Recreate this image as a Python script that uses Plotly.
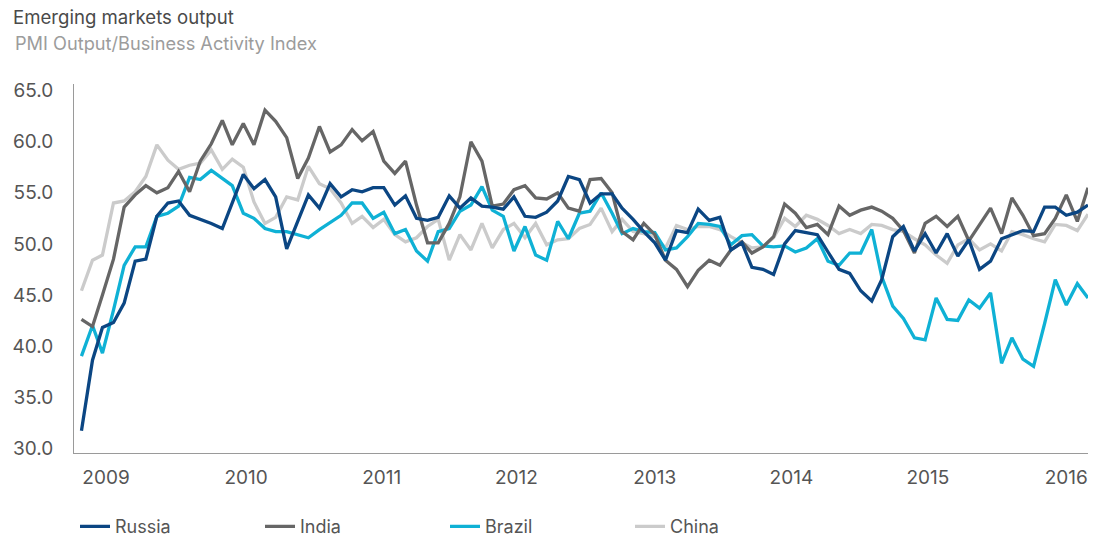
import pandas as pd
import plotly.graph_objects as go

# Monthly observations, Jan 2009 .. Oct 2016
months = pd.date_range("2009-01-01", "2016-10-01", freq="MS")

russia = [31.7, 38.6, 41.8, 42.3, 44.2, 48.3, 48.5, 52.7, 54.0, 54.2, 52.8, 52.4, 52.0, 51.5, 54.1, 56.8,
          55.4, 56.3, 54.6, 49.5, 52.2, 54.8, 53.5, 55.9, 54.6, 55.3, 55.1, 55.5, 55.5, 53.8, 54.7, 52.5,
          52.3, 52.6, 54.7, 53.5, 54.5, 53.7, 53.6, 53.4, 54.6, 52.7, 52.6, 53.1, 54.2, 56.6, 56.3, 54.0,
          54.9, 54.9, 53.5, 52.4, 51.2, 50.1, 48.4, 51.3, 51.1, 53.4, 52.3, 52.6, 49.4, 50.1, 47.7, 47.5,
          47.0, 50.0, 51.3, 51.1, 50.9, 49.2, 47.5, 47.1, 45.4, 44.4, 46.5, 50.7, 51.7, 49.3, 51.0, 49.1,
          51.0, 48.8, 50.4, 47.5, 48.3, 50.5, 50.9, 51.3, 51.2, 53.6, 53.6, 52.8, 53.1, 53.8]

india = [42.6, 41.9, 45.0, 48.5, 53.6, 54.8, 55.7, 55.0, 55.5, 57.1, 55.1, 58.1, 59.8, 62.1, 59.7, 61.8,
         59.7, 63.1, 62.0, 60.4, 56.4, 58.4, 61.5, 59.0, 59.7, 61.2, 60.1, 61.0, 58.1, 56.9, 58.1, 53.8,
         50.1, 50.1, 52.0, 54.6, 60.0, 58.1, 53.7, 53.9, 55.3, 55.7, 54.5, 54.4, 55.0, 53.5, 53.2, 56.3,
         56.4, 55.0, 51.2, 50.4, 52.0, 50.9, 48.4, 47.5, 45.8, 47.4, 48.4, 47.9, 49.4, 50.2, 49.1, 49.7,
         50.7, 53.9, 53.0, 51.6, 51.9, 50.9, 53.7, 52.8, 53.3, 53.6, 53.2, 52.5, 51.3, 49.1, 52.0, 52.7,
         51.7, 52.7, 50.3, 51.9, 53.5, 51.0, 54.5, 52.8, 50.8, 51.0, 52.5, 54.8, 52.2, 55.5]

brazil = [39.0, 42.0, 39.3, 43.5, 47.9, 49.7, 49.7, 52.7, 53.0, 53.7, 56.5, 56.3, 57.2, 56.4, 55.7, 53.0,
          52.5, 51.5, 51.2, 51.2, 50.9, 50.6, 51.4, 52.1, 52.8, 54.0, 54.0, 52.5, 53.1, 51.0, 51.4, 49.3,
          48.3, 51.2, 51.5, 53.2, 53.8, 55.6, 53.3, 52.7, 49.3, 51.7, 48.9, 48.4, 52.2, 50.5, 53.0, 53.2,
          55.0, 53.0, 51.0, 51.5, 51.2, 51.1, 49.4, 49.6, 50.7, 52.0, 51.9, 51.7, 49.9, 50.8, 50.9, 49.8,
          49.7, 49.8, 49.2, 49.6, 50.5, 48.3, 47.9, 49.1, 49.1, 51.4, 46.8, 43.9, 42.7, 40.8, 40.6, 44.7,
          42.6, 42.5, 44.5, 43.7, 45.2, 38.3, 40.8, 38.7, 38.0, 42.2, 46.5, 44.0, 46.1, 44.7]

china = [45.4, 48.4, 48.9, 54.0, 54.2, 55.1, 56.6, 59.7, 58.2, 57.3, 57.7, 57.9, 59.2, 57.3, 58.3, 57.5,
         54.1, 52.0, 52.6, 54.6, 54.3, 57.6, 55.9, 55.4, 54.0, 52.0, 52.7, 51.6, 52.4, 50.9, 50.2, 50.6,
         51.7, 52.4, 48.4, 50.9, 49.4, 52.0, 49.6, 51.4, 52.0, 50.6, 52.0, 49.9, 50.4, 50.5, 51.5, 51.9,
         53.5, 51.2, 52.4, 51.2, 51.0, 50.7, 49.6, 51.8, 51.4, 51.7, 51.7, 51.4, 50.7, 50.1, 49.6, 49.7,
         50.6, 52.5, 51.7, 52.8, 52.4, 51.8, 51.0, 51.4, 51.0, 51.9, 51.8, 51.4, 51.2, 50.5, 49.9, 48.9,
         48.1, 49.9, 50.5, 49.4, 50.0, 49.3, 51.2, 50.9, 50.5, 50.2, 51.9, 51.8, 51.3, 52.9]

# Year labels, positioned as in the source artwork
year_labels = ["2009", "2010", "2011", "2012", "2013", "2014", "2015", "2016"]
year_label_pos = ["2009-03-11", "2010-04-09", "2011-04-25", "2012-05-08",
                  "2013-06-01", "2014-06-20", "2015-07-09", "2016-08-01"]
y_ticks = [30, 35, 40, 45, 50, 55, 60, 65]

series = [
    ("China", china, "#cbcbcb", 4),
    ("Brazil", brazil, "#0fb1d5", 3),
    ("India", india, "#666666", 2),
    ("Russia", russia, "#0b4683", 1),
]

FONT = "Inter"
fig = go.Figure()
for name, vals, color, rank in series:
    fig.add_trace(go.Scatter(
        x=months, y=vals, name=name, mode="lines",
        line=dict(color=color, width=3.3),
        legendrank=rank,
    ))

fig.update_layout(
    width=1104, height=540,
    margin=dict(l=74, r=16, t=84, b=87),
    paper_bgcolor="white", plot_bgcolor="white",
    font=dict(family=FONT, size=18, color="#555555"),
    title=dict(text="Emerging markets output", x=13 / 1104, xanchor="left",
               y=1 - 17.5 / 540, yanchor="middle",
               font=dict(family=FONT, size=18.6, color="#4a4a4a")),
    annotations=[dict(text="PMI Output/Business Activity Index", xref="paper", yref="paper",
                      x=(13 - 74) / 1014, y=(453.3 - 43) / 369.3, xanchor="left", yanchor="middle",
                      showarrow=False, font=dict(family=FONT, size=18.2, color="#9c9c9c"))],
    showlegend=True,
    legend=dict(orientation="h", xref="container", yref="container",
                x=75 / 1104, xanchor="left", y=1 - 526.7 / 540, yanchor="middle",
                entrywidth=140, entrywidthmode="pixels",
                font=dict(family=FONT, size=18, color="#555555"),
                traceorder="normal"),
    xaxis=dict(type="date", range=["2008-12-11", "2016-10-01"],
               tickvals=year_label_pos, ticktext=year_labels,
               showgrid=False, zeroline=False, showline=True, linecolor="#9a9a9a", linewidth=1,
               ticks="", ticklabelstandoff=7,
               tickfont=dict(family=FONT, size=19, color="#555555")),
    yaxis=dict(range=[29.51, 65.66], tickvals=y_ticks, tickformat=".1f",
               showgrid=False, zeroline=False, showline=True, linecolor="#9a9a9a", linewidth=1,
               ticks="", ticklabelstandoff=16,
               tickfont=dict(family=FONT, size=19, color="#555555")),
)

fig.write_html("out.html", config={"displayModeBar": False},
               post_script="document.body.style.margin='0';")
